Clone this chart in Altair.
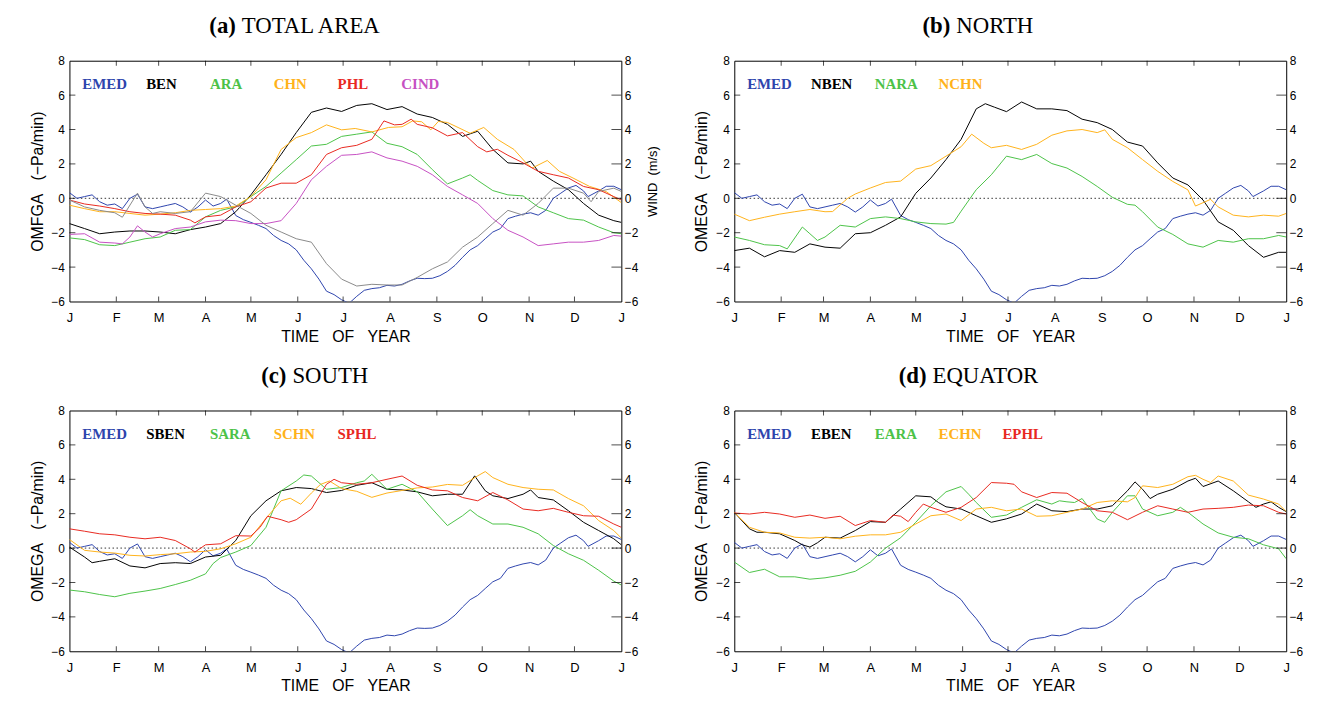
import json
import altair as alt
import pandas as pd

# ---------------- axes ----------------
MONTH_DAYS = [0, 31, 59, 90, 120, 151, 181, 212, 243, 273, 304, 334, 365]
MONTH_LABELS = ["J", "F", "M", "A", "M", "J", "J", "A", "S", "O", "N", "D", "J"]
Y_TICKS = [-6, -4, -2, 0, 2, 4, 6, 8]

# ---------------- data: (day of year, value) ----------------
EMED = [(0,0.33),(5,0.0),(10,0.1),(15,0.2),(20,-0.2),(25,-0.4),(30,-0.33),(35,-0.6),(40,0.0),(45,0.24),
        (50,-0.5),(55,-0.6),(60,-0.5),(65,-0.4),(70,-0.3),(75,-0.5),(80,-0.8),(85,-0.5),(90,-0.1),(95,-0.45),
        (100,-0.3),(104,-0.05),(110,-1.0),(115,-1.24),(120,-1.4),(125,-1.57),(130,-1.76),(135,-2.16),(140,-2.45),
        (145,-2.65),(150,-3.0),(155,-3.6),(160,-4.1),(165,-4.7),(170,-5.4),(175,-5.6),(180,-5.9),(185,-6.1),
        (190,-5.7),(195,-5.35),(200,-5.25),(205,-5.2),(210,-5.06),(215,-5.1),(220,-5.0),(225,-4.8),(230,-4.65),
        (235,-4.67),(240,-4.65),(245,-4.5),(250,-4.25),(255,-3.9),(260,-3.43),(265,-3.0),(270,-2.75),(275,-2.35),
        (280,-1.96),(285,-1.76),(290,-1.18),(295,-1.04),(300,-0.92),(305,-0.84),(310,-0.98),(315,-0.7),(320,0.0),
        (325,0.3),(330,0.6),(335,0.75),(340,0.43),(343,0.1),(350,0.43),(355,0.7),(360,0.7),(365,0.5)]

# panel (a) TOTAL AREA
BEN = [(0,-1.47),(10,-1.76),(20,-2.06),(30,-1.96),(40,-1.9),(50,-1.9),(60,-1.96),(70,-2.06),(80,-1.82),(90,-1.67),
       (100,-1.47),(110,-0.78),(120,0.2),(130,1.37),(140,2.55),(150,3.82),(160,5.0),(170,5.25),(180,5.05),(190,5.4),
       (200,5.5),(210,5.16),(220,5.33),(230,4.9),(240,4.7),(250,4.3),(260,3.6),(270,3.9),(280,2.84),(290,2.06),
       (300,2.0),(305,2.16),(310,1.57),(320,1.0),(330,0.5),(340,-0.3),(350,-0.98),(360,-1.3),(365,-1.4)]
ARA = [(0,-2.3),(10,-2.4),(20,-2.7),(30,-2.75),(40,-2.55),(50,-2.35),(60,-2.25),(70,-1.86),(80,-1.82),(90,-1.08),
       (100,-0.7),(110,-0.5),(120,0.1),(130,0.69),(140,1.47),(150,2.25),(160,3.04),(170,3.14),(180,3.6),(190,3.73),
       (200,3.86),(210,3.2),(220,3.0),(230,2.55),(240,1.67),(250,0.84),(260,1.18),(265,1.37),(270,1.04),(280,0.45),
       (290,0.2),(300,0.14),(310,-0.5),(320,-0.84),(330,-1.18),(340,-1.27),(350,-1.67),(360,-2.0),(365,-2.06)]
CHN = [(0,-0.4),(10,-0.6),(20,-0.78),(30,-0.78),(40,-0.88),(50,-0.98),(60,-0.92),(70,-0.84),(80,-0.7),(90,-0.65),
       (100,-0.6),(110,-0.45),(120,0.1),(130,1.08),(140,2.84),(150,3.53),(160,3.82),(170,4.27),(180,3.98),(189,4.06),
       (200,3.86),(211,4.12),(220,4.16),(227,4.5),(233,4.45),(239,3.98),(244,4.47),(250,4.41),(257,4.12),(265,3.78),
       (274,4.12),(283,3.43),(294,2.84),(302,2.06),(306,1.76),(316,2.2),(324,1.57),(333,1.18),(344,0.69),(355,0.39),
       (365,-0.25)]
PHL = [(0,-0.1),(10,-0.33),(20,-0.45),(30,-0.6),(40,-0.78),(50,-0.88),(60,-0.92),(70,-0.98),(80,-1.27),(83,-1.43),
       (90,-1.08),(100,-0.98),(110,-0.5),(120,-0.2),(130,0.6),(140,0.88),(150,0.88),(160,1.37),(170,2.55),(180,2.94),
       (190,3.08),(200,3.43),(208,4.5),(215,4.27),(220,4.3),(226,4.6),(230,4.3),(240,4.1),(250,3.63),(260,3.82),
       (270,3.0),(276,2.7),(283,2.85),(290,2.5),(300,2.06),(310,1.57),(320,1.37),(330,1.18),(340,0.69),(350,0.5),
       (360,0.1),(365,-0.1)]
CIND = [(0,-2.1),(10,-2.06),(20,-2.55),(30,-2.6),(35,-2.65),(40,-2.25),(45,-1.6),(50,-1.96),(55,-2.25),(60,-2.06),
        (70,-1.76),(80,-1.67),(90,-1.37),(100,-1.27),(110,-1.3),(120,-1.47),(130,-1.47),(140,-1.3),(150,-0.3),
        (160,1.08),(170,1.86),(180,2.5),(190,2.55),(200,2.7),(210,2.35),(220,2.16),(230,1.86),(240,1.37),(250,0.69),
        (260,0.2),(270,-0.3),(280,-1.18),(290,-1.86),(300,-2.25),(310,-2.75),(320,-2.65),(330,-2.55),(340,-2.55),
        (350,-2.45),(360,-2.16),(365,-2.2)]
WIND = [(0,-0.1),(10,-0.5),(20,-0.7),(30,-0.84),(35,-1.1),(45,0.3),(50,-0.5),(55,-0.88),(60,-0.78),(70,-0.88),
        (80,-0.78),(90,0.3),(95,0.2),(100,0.1),(110,-0.4),(120,-0.88),(130,-1.57),(140,-1.96),(150,-2.35),
        (160,-2.55),(170,-3.8),(180,-4.7),(190,-5.1),(200,-5.0),(210,-5.04),(220,-5.04),(230,-4.6),(240,-4.1),
        (250,-3.7),(260,-2.84),(270,-2.25),(280,-1.47),(290,-0.7),(300,-0.98),(310,-0.3),(320,0.59),(330,0.59),
        (340,0.3),(345,-0.2),(350,0.4),(360,0.59),(365,0.4)]

# panel (b) NORTH
NBEN = [(0,-3.04),(10,-2.9),(20,-3.4),(30,-3.04),(40,-3.14),(50,-2.65),(60,-2.84),(70,-2.9),(80,-2.06),(90,-2.0),
        (100,-1.57),(110,-1.08),(120,0.29),(130,1.18),(140,2.25),(150,3.43),(160,5.2),(166,5.5),(172,5.3),(180,5.04),
        (190,5.6),(200,5.2),(210,5.2),(220,5.1),(230,4.6),(240,4.4),(250,4.0),(260,3.27),(270,3.04),(280,2.06),
        (290,1.18),(300,0.78),(310,-0.1),(320,-1.37),(330,-1.86),(340,-2.75),(350,-3.43),(360,-3.14),(365,-3.14)]
NARA = [(0,-2.25),(10,-2.45),(20,-2.7),(30,-2.75),(35,-2.94),(45,-1.67),(50,-2.06),(55,-2.45),(60,-2.25),(70,-1.57),
        (80,-1.67),(90,-1.18),(100,-1.08),(110,-1.18),(120,-1.37),(130,-1.47),(140,-1.5),(145,-1.4),(150,-0.75),
        (156,0.0),(160,0.5),(170,1.37),(180,2.45),(190,2.25),(200,2.55),(210,2.02),(220,1.76),(230,1.27),(240,0.69),
        (250,0.06),(260,-0.35),(265,-0.4),(270,-0.78),(280,-1.67),(290,-2.1),(300,-2.65),(310,-2.84),(320,-2.45),
        (330,-2.55),(340,-2.35),(350,-2.35),(360,-2.16),(365,-2.25)]
NCHN = [(0,-0.92),(10,-1.3),(20,-1.1),(30,-0.92),(40,-0.78),(50,-0.65),(60,-0.78),(65,-0.77),(75,0.0),(80,0.25),
        (90,0.6),(100,0.92),(110,1.0),(120,1.7),(130,1.9),(140,2.45),(150,3.0),(157,3.73),(165,3.2),(170,2.94),
        (180,3.08),(190,2.84),(200,3.14),(210,3.67),(220,3.92),(230,4.0),(240,3.82),(245,3.98),(250,3.43),
        (260,2.94),(270,2.25),(280,1.57),(290,0.98),(300,0.49),(305,-0.45),(315,-0.06),(320,-0.5),(330,-0.98),
        (340,-1.08),(350,-0.98),(360,-1.04),(365,-0.88)]

# panel (c) SOUTH
SBEN = [(0,0.06),(10,-0.52),(15,-0.85),(20,-0.77),(30,-0.62),(40,-1.04),(50,-1.15),(60,-0.9),(70,-0.85),(80,-0.9),
        (90,-0.52),(100,-0.42),(110,0.44),(120,1.88),(130,2.75),(140,3.33),(150,3.52),(160,3.46),(170,3.23),
        (180,3.35),(190,3.65),(200,3.8),(210,3.42),(220,3.38),(230,3.27),(240,3.04),(250,3.13),(260,3.13),(268,4.2),
        (275,3.33),(280,3.04),(290,2.88),(300,3.13),(305,3.38),(310,2.94),(320,2.8),(330,2.17),(340,1.5),(350,1.02),
        (360,0.54),(365,0.19)]
SARA = [(0,-2.44),(10,-2.54),(20,-2.7),(30,-2.83),(40,-2.63),(50,-2.5),(60,-2.35),(70,-2.12),(80,-1.87),(90,-1.5),
        (95,-0.9),(100,-0.55),(110,-0.23),(120,0.15),(130,1.21),(140,3.33),(150,3.9),(155,4.25),(160,4.19),
        (170,3.42),(180,3.52),(190,3.8),(195,3.9),(200,4.29),(210,3.42),(220,3.71),(230,3.27),(240,2.27),(250,1.31),
        (260,1.88),(265,2.23),(270,1.88),(280,1.4),(290,1.4),(300,1.21),(310,0.83),(320,0.15),(330,-0.33),
        (340,-0.71),(350,-1.29),(360,-1.92),(365,-2.15)]
SCHN = [(0,0.5),(10,-0.13),(20,-0.23),(30,-0.29),(40,-0.42),(50,-0.46),(60,-0.38),(70,-0.33),(80,-0.23),(90,-0.19),
        (100,-0.04),(110,0.25),(120,0.63),(130,1.73),(140,2.75),(146,2.9),(153,2.55),(160,3.2),(166,3.7),(172,3.9),
        (180,3.46),(190,3.3),(200,2.95),(210,3.2),(220,3.35),(230,3.5),(240,3.55),(250,3.7),(260,3.65),(270,4.2),
        (275,4.45),(280,4.1),(290,3.71),(300,3.52),(310,3.42),(320,3.38),(330,2.88),(340,2.46),(350,1.6),(360,1.02),
        (365,0.58)]
SPHL = [(0,1.12),(10,0.98),(20,0.83),(30,0.77),(40,0.63),(50,0.54),(60,0.63),(70,0.44),(80,-0.04),(83,-0.23),
        (90,0.19),(100,0.25),(110,0.72),(120,0.7),(126,1.2),(131,1.85),(140,1.65),(145,1.5),(150,1.65),(160,2.27),
        (170,3.71),(175,4.0),(180,3.8),(190,3.71),(200,3.8),(210,4.0),(220,4.19),(230,3.65),(240,3.38),(250,3.33),
        (260,2.94),(270,2.75),(280,3.23),(290,2.8),(300,2.27),(310,2.17),(320,2.31),(330,2.08),(340,1.88),(350,1.85),
        (360,1.4),(365,1.21)]

# panel (d) EQUATOR
EBEN = [(0,2.08),(10,1.12),(15,0.92),(20,0.92),(30,0.83),(40,0.44),(45,0.19),(50,0.06),(55,0.31),(60,0.63),
        (70,0.58),(80,1.02),(90,1.54),(100,1.5),(110,2.27),(120,3.04),(130,2.98),(135,2.65),(140,2.4),(150,2.27),
        (160,1.88),(170,1.5),(180,1.7),(190,1.98),(200,2.56),(210,2.17),(220,2.12),(230,2.27),(240,2.27),(250,2.46),
        (260,3.33),(265,3.85),(270,3.42),(275,2.88),(280,3.13),(290,3.42),(300,3.9),(305,4.06),(310,3.58),(320,3.9),
        (330,3.33),(340,2.69),(345,2.37),(350,2.56),(355,2.69),(360,2.37),(365,2.12)]
EARA = [(0,-0.81),(10,-1.42),(20,-1.23),(30,-1.67),(40,-1.67),(50,-1.81),(60,-1.73),(70,-1.58),(80,-1.35),
        (90,-0.81),(100,0.0),(110,0.6),(120,1.5),(130,2.46),(140,3.27),(150,3.58),(155,3.13),(160,2.65),(170,1.79),
        (180,1.92),(190,2.37),(200,2.81),(210,2.56),(215,2.75),(220,2.69),(225,2.65),(230,2.88),(240,1.69),(245,1.5),
        (250,2.08),(260,3.04),(265,3.04),(270,2.27),(280,1.88),(290,2.08),(295,2.37),(300,2.08),(310,1.4),(320,0.88),
        (330,0.63),(340,0.54),(350,0.19),(360,-0.04),(365,-0.62)]
ECHN = [(0,2.08),(10,1.21),(20,0.92),(30,0.88),(40,0.63),(50,0.58),(60,0.63),(70,0.54),(80,0.69),(90,0.77),
        (100,0.77),(110,0.92),(120,1.4),(130,1.88),(140,1.98),(150,1.6),(160,2.27),(170,2.37),(180,2.17),(190,2.27),
        (200,1.85),(210,1.88),(220,2.08),(230,2.27),(240,2.65),(250,2.75),(260,2.69),(265,2.94),(270,3.62),(280,3.52),
        (290,3.71),(300,4.15),(305,4.23),(310,4.0),(315,3.81),(320,4.19),(330,3.9),(340,3.08),(350,2.85),(360,2.56),
        (365,2.12)]
EPHL = [(0,2.04),(10,1.98),(20,2.08),(30,1.98),(40,1.79),(50,1.92),(60,1.73),(70,1.85),(80,1.31),(90,1.6),
        (100,1.5),(105,1.92),(110,1.85),(115,1.54),(120,2.08),(125,2.56),(130,2.37),(140,2.08),(150,2.37),(160,2.94),
        (170,3.81),(180,3.77),(185,3.71),(190,3.27),(200,2.94),(210,3.23),(220,3.19),(230,2.65),(240,2.17),(250,2.08),
        (260,1.65),(270,2.08),(280,2.46),(290,2.27),(300,2.08),(310,2.27),(320,2.31),(330,2.37),(340,2.5),(350,2.46),
        (360,2.08),(365,1.98)]

# ---------------- colours ----------------
BLUE = "#2e44ad"
BLACK = "#000000"
GREEN = "#4cc248"
ORANGE = "#ffb21a"
RED = "#e8281f"
MAGENTA = "#c650c2"
GRAY = "#8a8a8a"

# ---------------- styling ----------------
W, H = 557, 243
SERIF = "Liberation Serif"
SANS = "Liberation Sans"
NB = "\u00a0"
LABEL_EXPR = "{}[indexof({}, datum.value)]".format(json.dumps(MONTH_LABELS), json.dumps(MONTH_DAYS))

XSCALE = alt.Scale(domain=[0, 365], nice=False, zero=False)
YSCALE = alt.Scale(domain=[-6, 8], nice=False, zero=False)


def xenc():
    return alt.X("day:Q", scale=XSCALE,
                 axis=alt.Axis(values=MONTH_DAYS, labelExpr=LABEL_EXPR,
                               title="TIME" + NB * 3 + "OF" + NB * 3 + "YEAR",
                               labelFlush=False, labelOverlap=False, labelPadding=10, titlePadding=4,
                               labelFontSize=13))


def yleft(title):
    return alt.Y("value:Q", scale=YSCALE,
                 axis=alt.Axis(orient="left", values=Y_TICKS, title=title, labelPadding=5,
                               titlePadding=6, labelFlush=False, labelOverlap=False))


def yright(title):
    if title:
        ax = alt.Axis(orient="right", values=Y_TICKS, title=title, labelPadding=3, titlePadding=22,
                      titleAngle=270, titleFontSize=13, labelFlush=False, labelOverlap=False)
    else:
        ax = alt.Axis(orient="right", values=Y_TICKS, title=None, labelPadding=3,
                      labelFlush=False, labelOverlap=False)
    return alt.Y("value:Q", scale=YSCALE, axis=ax)


ONE = pd.DataFrame({"k": [0]})


def panel(tag, name, title_x, names, datas, colors, ytitle, wind=None, wind_title=None):
    rows = []
    for n, pts in zip(names, datas):
        for d, v in pts:
            rows.append({"series": n, "day": d, "value": v})
    df = pd.DataFrame(rows)

    zero = alt.Chart(pd.DataFrame({"value": [0]})).mark_rule(
        color="#333333", strokeWidth=1, strokeDash=[1.5, 2.5]).encode(y=yleft(ytitle))
    lines = alt.Chart(df).mark_line(strokeWidth=1, clip=True).encode(
        x=xenc(), y=yleft(ytitle),
        color=alt.Color("series:N", scale=alt.Scale(domain=names, range=colors), legend=None))
    ticks_left = alt.Chart(pd.DataFrame({"value": Y_TICKS[1:-1]})).mark_tick(
        orient="horizontal", size=6, thickness=1, color="black").encode(y=yleft(ytitle), x=alt.value(3))
    ticks_top = alt.Chart(pd.DataFrame({"day": MONTH_DAYS[1:-1]})).mark_tick(
        orient="vertical", size=5, thickness=1, color="black").encode(x=xenc(), y=alt.value(2.5))
    ticks_bottom = alt.Chart(pd.DataFrame({"day": MONTH_DAYS[1:-1]})).mark_tick(
        orient="vertical", size=5, thickness=1, color="black").encode(x=xenc(), y=alt.value(H - 2.5))

    texts = []
    for i, (n, c) in enumerate(zip(names, colors)):
        texts.append(alt.Chart(ONE).mark_text(
            text=n, color=c, font=SERIF, fontSize=15, fontWeight="bold", align="left",
            baseline="middle").encode(x=alt.value(13 + 64.4 * i), y=alt.value(24)))
    texts.append(alt.Chart(ONE).mark_text(
        text=tag, color="black", font=SERIF, fontSize=23, fontWeight="bold", align="right",
        baseline="middle").encode(x=alt.value(title_x), y=alt.value(-35)))
    texts.append(alt.Chart(ONE).mark_text(
        text=name, color="black", font=SERIF, fontSize=23, fontWeight="normal", align="left",
        baseline="middle").encode(x=alt.value(title_x + 6), y=alt.value(-35)))

    left = alt.layer(zero, lines, ticks_left, ticks_top, ticks_bottom, *texts)

    ticks_right = alt.Chart(pd.DataFrame({"value": Y_TICKS[1:-1]})).mark_tick(
        orient="horizontal", size=10, thickness=1, color="black").encode(
        y=yright(wind_title), x=alt.value(W - 5))
    right_layers = [ticks_right]
    if wind is not None:
        wdf = pd.DataFrame({"day": [d for d, _ in wind], "value": [v for _, v in wind]})
        right_layers.append(alt.Chart(wdf).mark_line(color=GRAY, strokeWidth=1, clip=True).encode(
            x=xenc(), y=yright(wind_title)))
    right = alt.layer(*right_layers)

    return alt.layer(left, right).resolve_scale(y="independent").properties(width=W, height=H)


YT = "OMEGA" + NB * 3 + "(\u2212Pa/min)"
pa = panel("(a)", "TOTAL AREA", 168,
           ["EMED", "BEN", "ARA", "CHN", "PHL", "CIND"],
           [EMED, BEN, ARA, CHN, PHL, CIND],
           [BLUE, BLACK, GREEN, ORANGE, RED, MAGENTA],
           "OMFGA" + NB * 3 + "(\u2212Pa/min)", wind=WIND, wind_title="WIND" + NB * 2 + "(m/s)")
pb = panel("(b)", "NORTH", 218,
           ["EMED", "NBEN", "NARA", "NCHN"],
           [EMED, NBEN, NARA, NCHN],
           [BLUE, BLACK, GREEN, ORANGE],
           YT)
pc = panel("(c)", "SOUTH", 219,
           ["EMED", "SBEN", "SARA", "SCHN", "SPHL"],
           [EMED, SBEN, SARA, SCHN, SPHL],
           [BLUE, BLACK, GREEN, ORANGE, RED],
           YT)
pd_ = panel("(d)", "EQUATOR", 194,
            ["EMED", "EBEN", "EARA", "ECHN", "EPHL"],
            [EMED, EBEN, EARA, ECHN, EPHL],
            [BLUE, BLACK, GREEN, ORANGE, RED],
            YT)

chart = alt.concat(pa, pb, pc, pd_, columns=2, spacing={"row": 19, "column": 32}).resolve_scale(
    color="independent"
).configure_view(
    stroke="black", strokeWidth=1
).configure_axis(
    labelFont=SANS, labelFontSize=12, labelColor="black",
    titleFont=SANS, titleFontSize=16, titleFontWeight="normal", titleColor="black",
    grid=False, domain=False, ticks=False
).properties(padding={"left": 20, "top": 3, "right": 5, "bottom": 5}, background="white")

chart.save("out.html", embed_options={"renderer": "svg", "actions": False})
